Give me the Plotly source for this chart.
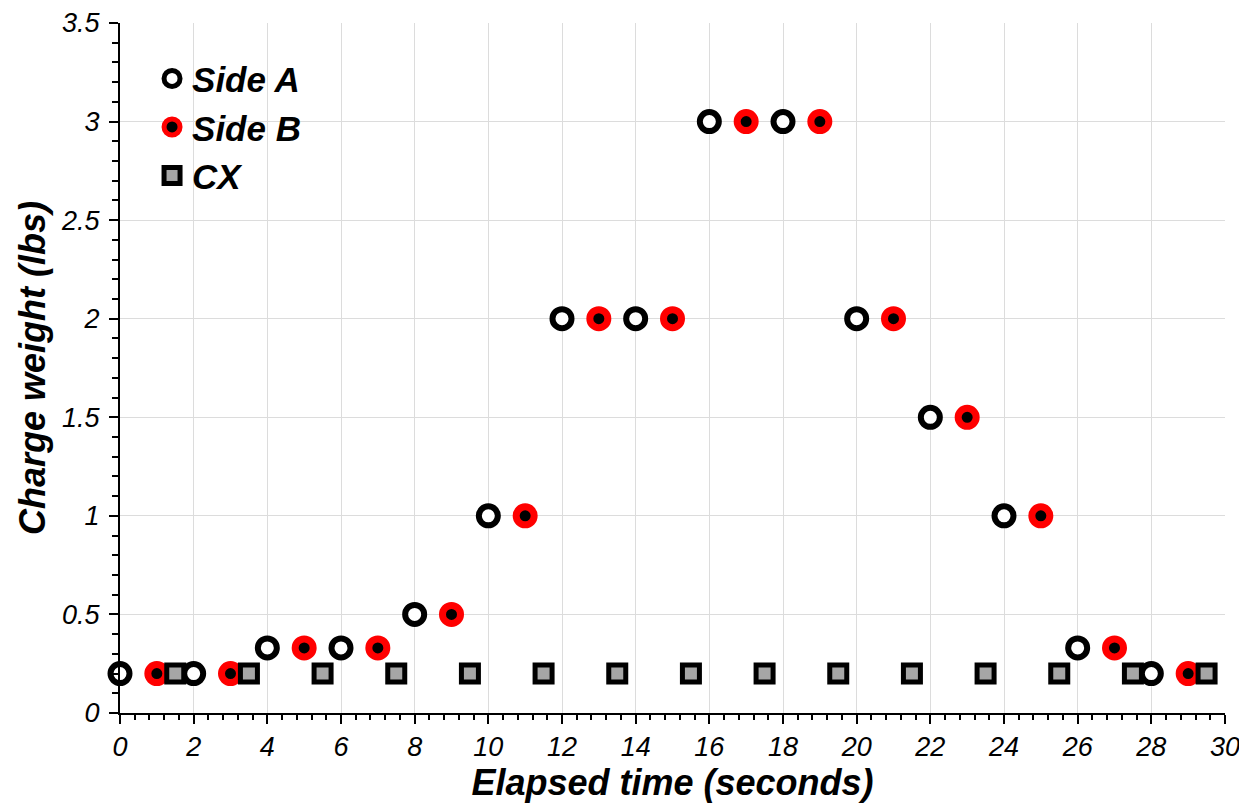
import plotly.graph_objects as go

side_a_x = [0, 2, 4, 6, 8, 10, 12, 14, 16, 18, 20, 22, 24, 26, 28]
side_a_y = [0.2, 0.2, 0.33, 0.33, 0.5, 1, 2, 2, 3, 3, 2, 1.5, 1, 0.33, 0.2]
side_b_x = [1, 3, 5, 7, 9, 11, 13, 15, 17, 19, 21, 23, 25, 27, 29]
side_b_y = [0.2, 0.2, 0.33, 0.33, 0.5, 1, 2, 2, 3, 3, 2, 1.5, 1, 0.33, 0.2]
cx_x = [1.5, 3.5, 5.5, 7.5, 9.5, 11.5, 13.5, 15.5, 17.5, 19.5, 21.5, 23.5, 25.5, 27.5, 29.5]
cx_y = [0.2] * 15

FONT = "Liberation Sans, Arial, sans-serif"

fig = go.Figure()
fig.add_trace(go.Scatter(
    x=side_a_x, y=side_a_y, mode="markers", name="<b><i>Side A</i></b>",
    marker=dict(symbol="circle", size=19, color="white", line=dict(color="black", width=6)),
    cliponaxis=False))
fig.add_trace(go.Scatter(
    x=side_b_x, y=side_b_y, mode="markers", name="<b><i>Side B</i></b>",
    marker=dict(symbol="circle", size=18, color="black", line=dict(color="#ff0000", width=7)),
    cliponaxis=False))
fig.add_trace(go.Scatter(
    x=cx_x, y=cx_y, mode="markers", name="<b><i>CX</i></b>",
    marker=dict(symbol="square", size=17, color="#a6a6a6", line=dict(color="black", width=5)),
    cliponaxis=False))

fig.update_layout(
    width=1247, height=806,
    margin=dict(l=112, r=30, t=15, b=101, autoexpand=False),
    paper_bgcolor="white", plot_bgcolor="white",
    font=dict(family=FONT, color="black"),
    showlegend=True,
    legend=dict(x=0.029, y=0.962, xanchor="left", yanchor="top",
                bgcolor="rgba(255,255,255,0)", font=dict(size=35, family=FONT),
                itemsizing="trace", tracegroupgap=0),
    xaxis=dict(
        range=[0, 30], tick0=0, dtick=2, showgrid=True, gridcolor="#dcdcdc", gridwidth=1,
        showline=True, linecolor="black", linewidth=2, mirror=False, automargin=False,
        ticks="outside", ticklen=9, tickwidth=2, tickcolor="black",
        tickfont=dict(size=27, family=FONT, style="italic"),
        minor=dict(dtick=0.4, ticks="outside", ticklen=5, tickwidth=2, tickcolor="black", showgrid=False),
        zeroline=False,
        title=dict(text="<b><i>Elapsed time (seconds)</i></b>", font=dict(size=36, family=FONT), standoff=0),
    ),
    yaxis=dict(
        range=[0, 3.5], tick0=0, dtick=0.5, showgrid=True, gridcolor="#dcdcdc", gridwidth=1,
        showline=True, linecolor="black", linewidth=2, mirror=False, automargin=False,
        ticks="outside", ticklen=9, tickwidth=2, tickcolor="black", ticklabelstandoff=4,
        tickfont=dict(size=27, family=FONT, style="italic"),
        minor=dict(dtick=0.1, ticks="outside", ticklen=6, tickwidth=2, tickcolor="black", showgrid=False),
        zeroline=False,
        title=dict(text="<b><i>Charge weight (lbs)</i></b>", font=dict(size=36, family=FONT), standoff=4),
    ),
)

fig.write_html("out.html")
